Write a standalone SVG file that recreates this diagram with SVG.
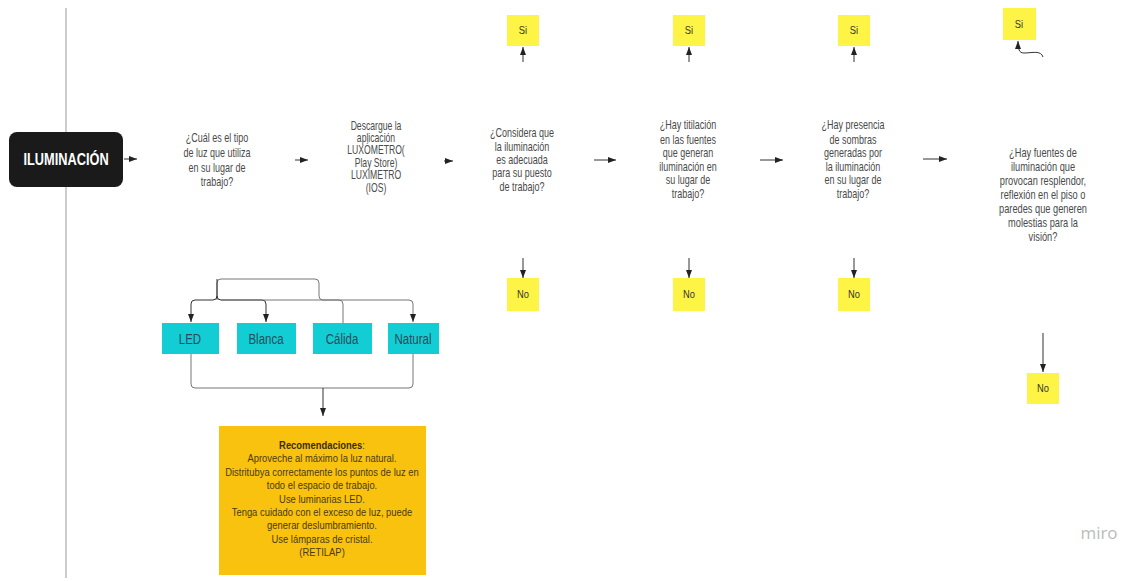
<svg xmlns="http://www.w3.org/2000/svg" width="1127" height="581" viewBox="0 0 1127 581">
<defs>
<style>
.q{font-family:"Liberation Sans",Arial,sans-serif;font-size:12.5px;fill:#4a4a4a;text-anchor:middle}
.y{fill:#FEF445}
.yt{font-family:"Liberation Sans",Arial,sans-serif;font-size:11px;fill:#333;text-anchor:middle}
.t{fill:#12CDD4}
.tt{font-family:"Liberation Sans",Arial,sans-serif;font-size:14px;fill:#2d4a5a;text-anchor:middle}
.r{font-family:"Liberation Sans",Arial,sans-serif;font-size:11.5px;fill:#4a3a10;text-anchor:middle}
.c{stroke:#333;stroke-width:1;fill:none}
.g{stroke:#777;stroke-width:1;fill:none}
.ca{marker-end:url(#ah)}
</style>
<marker id="ah" viewBox="0 0 8 6" refX="8" refY="3" markerWidth="8" markerHeight="6" markerUnits="userSpaceOnUse" orient="auto">
<path d="M0,0 L8,3 L0,6 Z" fill="#222"/>
</marker>
</defs>
<rect width="1127" height="581" fill="#fff"/>
<line x1="66" y1="8" x2="66" y2="578" stroke="#999" stroke-width="1"/>

<g id="connectors">
<path class="c ca" d="M124,159 L137,159"/>
<path class="c ca" d="M295,160 L308,160"/>
<path class="c ca" d="M444,161 L453,161"/>
<path class="c ca" d="M594,160 L616,160"/>
<path class="c ca" d="M760,160 L783,160"/>
<path class="c ca" d="M923,159 L947,159"/>
<path class="c ca" d="M523,62 L523,47"/>
<path class="c ca" d="M689,62 L689,47"/>
<path class="c ca" d="M854,62 L854,47"/>
<path class="c ca" d="M1043,57 C1041,50 1032,53 1024,53 C1019,53 1018,49 1018,41"/>
<path class="c ca" d="M523,258 L523,278"/>
<path class="c ca" d="M689,258 L689,278"/>
<path class="c ca" d="M854,258 L854,278"/>
<path class="c ca" d="M1043,333 L1043,372"/>
<path class="g" d="M217,300 L217,283 Q217,279 221,279 L315,279 Q319,279 319,283 L319,296 Q319,300 323,300 L339,300 Q343,300 343,304 L343,323"/>
<path class="c ca" d="M217,279 L217,296 Q217,300 213,300 L195,300 Q191,300 191,304 L191,322"/>
<path class="c ca" d="M217,296 Q217,300 221,300 L262,300 Q266,300 266,304 L266,322"/>
<path class="g ca" d="M221,300 L409,300 Q413,300 413,304 L413,322"/>
<path class="g" d="M191,354 L191,384 Q191,388 195,388 L409,388 Q413,388 413,384 L413,354"/>
<path class="c ca" d="M323,388 L323,416"/>
</g>

<g id="iluminacion">
<rect x="9" y="132" width="114" height="55" rx="8" fill="#1a1a1a"/>
<text transform="translate(66 165) scale(0.8 1)" font-family="'Liberation Sans',Arial,sans-serif" font-size="16" font-weight="bold" fill="#fff" text-anchor="middle">ILUMINACIÓN</text>
</g>

<g id="q1" transform="translate(217 0) scale(0.72 1)">
<text class="q" x="0" y="142">¿Cuál es el tipo</text>
<text class="q" x="0" y="157">de luz que utiliza</text>
<text class="q" x="0" y="172">en su lugar de</text>
<text class="q" x="0" y="186">trabajo?</text>
</g>

<g id="q2" transform="translate(376 0) scale(0.69 1)">
<text class="q" x="0" y="130">Descargue la</text>
<text class="q" x="0" y="142">aplicación</text>
<text class="q" x="0" y="154">LUXÓMETRO(</text>
<text class="q" x="0" y="167">Play Store)</text>
<text class="q" x="0" y="179">LUXIMETRO</text>
<text class="q" x="0" y="192">(IOS)</text>
</g>

<g id="q3" transform="translate(522 0) scale(0.72 1)">
<text class="q" x="0" y="137">¿Considera que</text>
<text class="q" x="0" y="151">la iluminación</text>
<text class="q" x="0" y="164">es adecuada</text>
<text class="q" x="0" y="177">para su puesto</text>
<text class="q" x="0" y="191">de trabajo?</text>
</g>

<g id="q4" transform="translate(688 0) scale(0.72 1)">
<text class="q" x="0" y="129">¿Hay titilación</text>
<text class="q" x="0" y="144">en las fuentes</text>
<text class="q" x="0" y="157">que generan</text>
<text class="q" x="0" y="171">iluminación en</text>
<text class="q" x="0" y="184">su lugar de</text>
<text class="q" x="0" y="198">trabajo?</text>
</g>

<g id="q5" transform="translate(853 0) scale(0.72 1)">
<text class="q" x="0" y="129">¿Hay presencia</text>
<text class="q" x="0" y="144">de sombras</text>
<text class="q" x="0" y="157">generadas por</text>
<text class="q" x="0" y="171">la iluminación</text>
<text class="q" x="0" y="184">en su lugar de</text>
<text class="q" x="0" y="198">trabajo?</text>
</g>

<g id="q6" transform="translate(1043 0) scale(0.74 1)">
<text class="q" x="0" y="157">¿Hay fuentes de</text>
<text class="q" x="0" y="171">iluminación que</text>
<text class="q" x="0" y="185">provocan resplendor,</text>
<text class="q" x="0" y="199">reflexión en el piso o</text>
<text class="q" x="0" y="213">paredes que generen</text>
<text class="q" x="0" y="227">molestias para la</text>
<text class="q" x="0" y="241">visión?</text>
</g>

<g id="si1"><rect class="y" x="507" y="15" width="32" height="31"/><text class="yt" transform="translate(523 34) scale(0.85 1)">Si</text></g>
<g id="si2"><rect class="y" x="673" y="15" width="32" height="31"/><text class="yt" transform="translate(689 34) scale(0.85 1)">Si</text></g>
<g id="si3"><rect class="y" x="838" y="15" width="32" height="31"/><text class="yt" transform="translate(854 34) scale(0.85 1)">Si</text></g>
<g id="si4"><rect class="y" x="1003" y="8" width="33" height="32"/><text class="yt" transform="translate(1019 28) scale(0.85 1)">Si</text></g>

<g id="no1"><rect class="y" x="507" y="278" width="32" height="33"/><text class="yt" transform="translate(523 298) scale(0.85 1)">No</text></g>
<g id="no2"><rect class="y" x="673" y="278" width="32" height="33"/><text class="yt" transform="translate(689 298) scale(0.85 1)">No</text></g>
<g id="no3"><rect class="y" x="838" y="278" width="32" height="33"/><text class="yt" transform="translate(854 298) scale(0.85 1)">No</text></g>
<g id="no4"><rect class="y" x="1027" y="373" width="32" height="31"/><text class="yt" transform="translate(1043 392) scale(0.85 1)">No</text></g>

<g id="led"><rect class="t" x="162" y="323" width="57" height="31"/><text class="tt" transform="translate(190 344) scale(0.82 1)">LED</text></g>
<g id="blanca"><rect class="t" x="237" y="323" width="59" height="31"/><text class="tt" transform="translate(266 344) scale(0.82 1)">Blanca</text></g>
<g id="calida"><rect class="t" x="313" y="323" width="59" height="31"/><text class="tt" transform="translate(342 344) scale(0.82 1)">Cálida</text></g>
<g id="natural"><rect class="t" x="388" y="323" width="51" height="31"/><text class="tt" transform="translate(413 344) scale(0.82 1)">Natural</text></g>

<g id="recomendaciones">
<rect x="219" y="426" width="207" height="149" fill="#F8C20F"/>
<g transform="translate(322 0) scale(0.82 1)">
<text class="r" x="0" y="449"><tspan font-weight="bold" fill="#3a2e08">Recomendaciones</tspan>:</text>
<text class="r" x="0" y="462">Aproveche al máximo la luz natural.</text>
<text class="r" x="0" y="476">Distritubya correctamente los puntos de luz en</text>
<text class="r" x="0" y="489">todo el espacio de trabajo.</text>
<text class="r" x="0" y="503">Use luminarias LED.</text>
<text class="r" x="0" y="516">Tenga cuidado con el exceso de luz, puede</text>
<text class="r" x="0" y="529">generar deslumbramiento.</text>
<text class="r" x="0" y="543">Use lámparas de cristal.</text>
<text class="r" x="0" y="556">(RETILAP)</text>
</g>
</g>

<text x="1099" y="539" font-family="'Open Sans','Liberation Sans',sans-serif" font-size="17" fill="#bbb" text-anchor="middle">miro</text>
</svg>
